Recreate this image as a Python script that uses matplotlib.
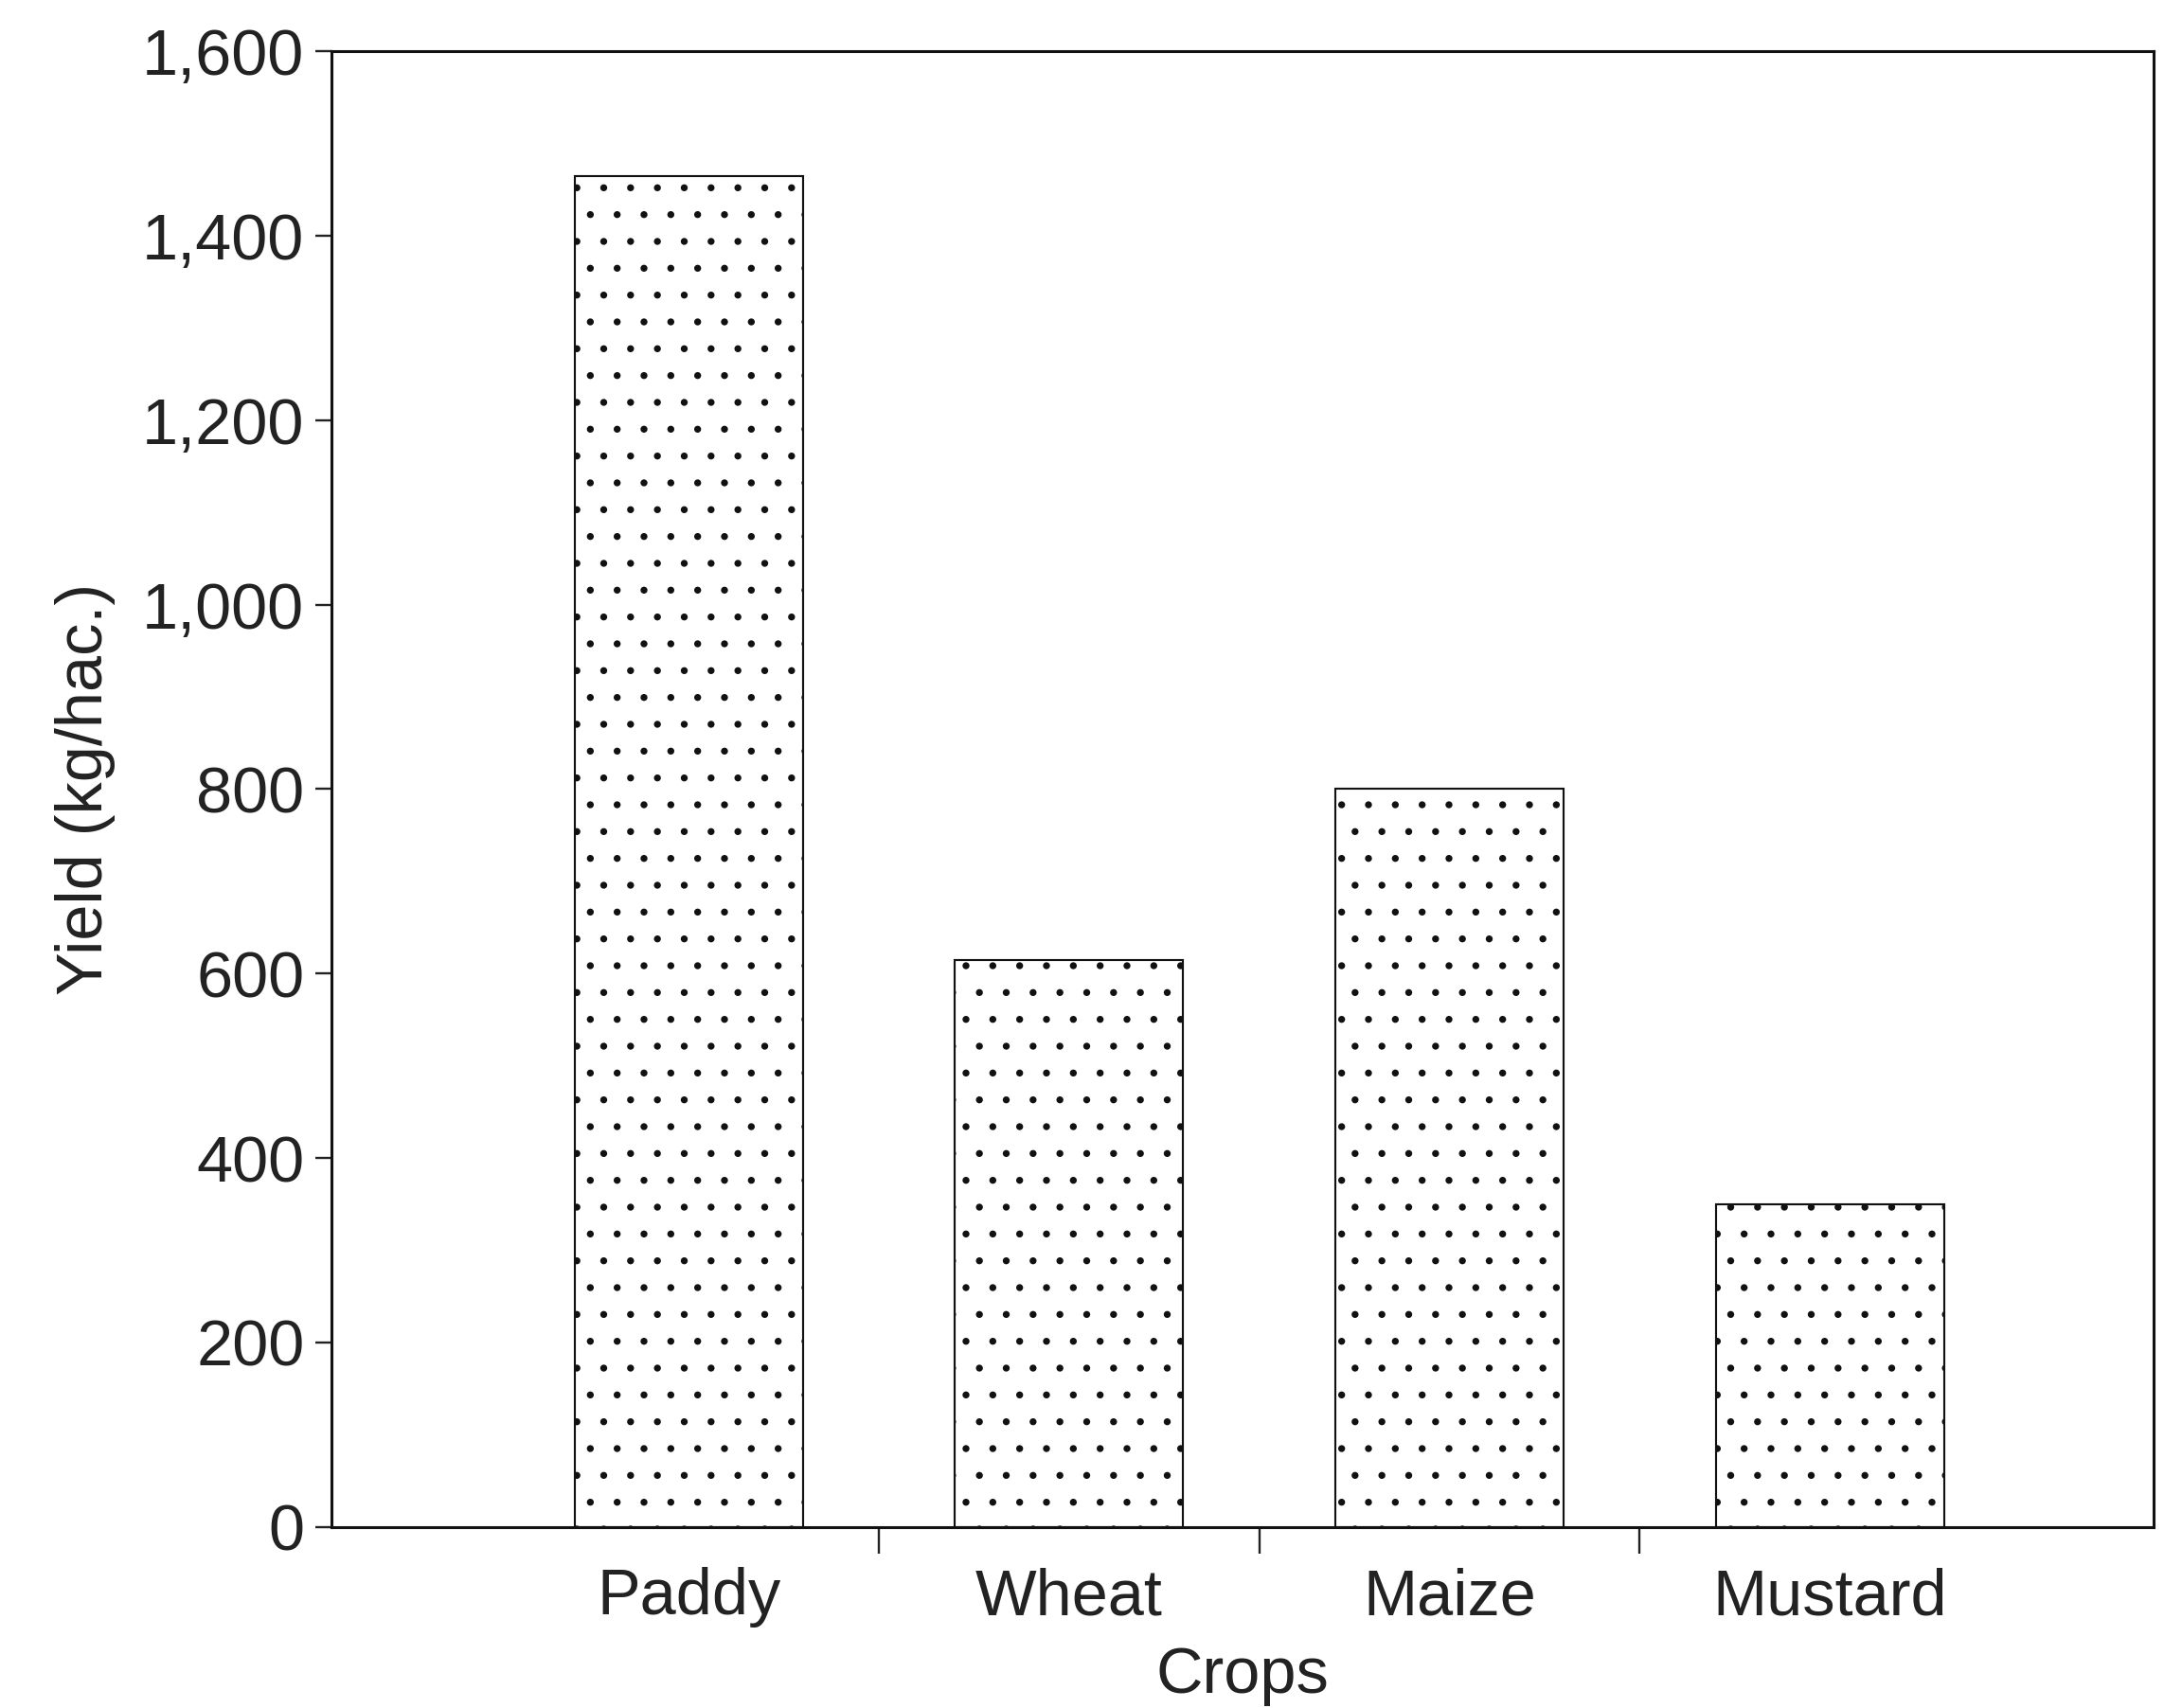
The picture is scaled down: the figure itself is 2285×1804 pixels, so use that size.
import numpy as np
import matplotlib
matplotlib.use("Agg")
import matplotlib.pyplot as plt


crops = ["Paddy", "Wheat", "Maize", "Mustard"]
yield_kg = [1465, 615, 800, 350]
y_ticks = [0, 200, 400, 600, 800, 1000, 1200, 1400, 1600]

DPI = 170

plt.rcParams['font.family'] = ['Liberation Sans', 'DejaVu Sans']
plt.rcParams['hatch.linewidth'] = 0.7
plt.rcParams['hatch.color'] = '#555555'


def draw_chart():
    fig = plt.figure(figsize=(2285 / DPI, 1804 / DPI), dpi=DPI)
    ax = fig.add_axes([0.153, 0.106, 0.842, 0.864])

    x = np.arange(len(crops))
    ax.bar(x, yield_kg, width=0.6, facecolor='white', edgecolor='#111111',
           linewidth=0.9, hatch='.')

    ax.set_xlim(-0.94, 3.85)
    ax.set_ylim(0, 1600)

    # category names under the bars, small ticks between them
    ax.set_xticks(x)
    ax.set_xticklabels(crops, fontsize=29, color='#222222')
    ax.tick_params(axis='x', which='major', length=0, pad=18)
    ax.set_xticks(x[:-1] + 0.5, minor=True)
    ax.tick_params(axis='x', which='minor', length=12, width=1.0,
                   direction='out', color='#222222')

    ax.set_yticks(y_ticks)
    ax.set_yticklabels([f"{v:,}" for v in y_ticks], fontsize=29, color='#222222')
    ax.tick_params(axis='y', length=7, width=1.0, direction='out', pad=5,
                   color='#222222')

    for s in ax.spines.values():
        s.set_linewidth(1.3)
        s.set_color('#111111')

    ax.set_xlabel("Crops", fontsize=29, color='#222222', labelpad=8)
    ax.set_ylabel("Yield (kg/hac.)", fontsize=29, color='#222222', labelpad=12)

    fig.savefig("out.png", dpi=DPI, facecolor='white')


if __name__ == '__main__':
    draw_chart()
